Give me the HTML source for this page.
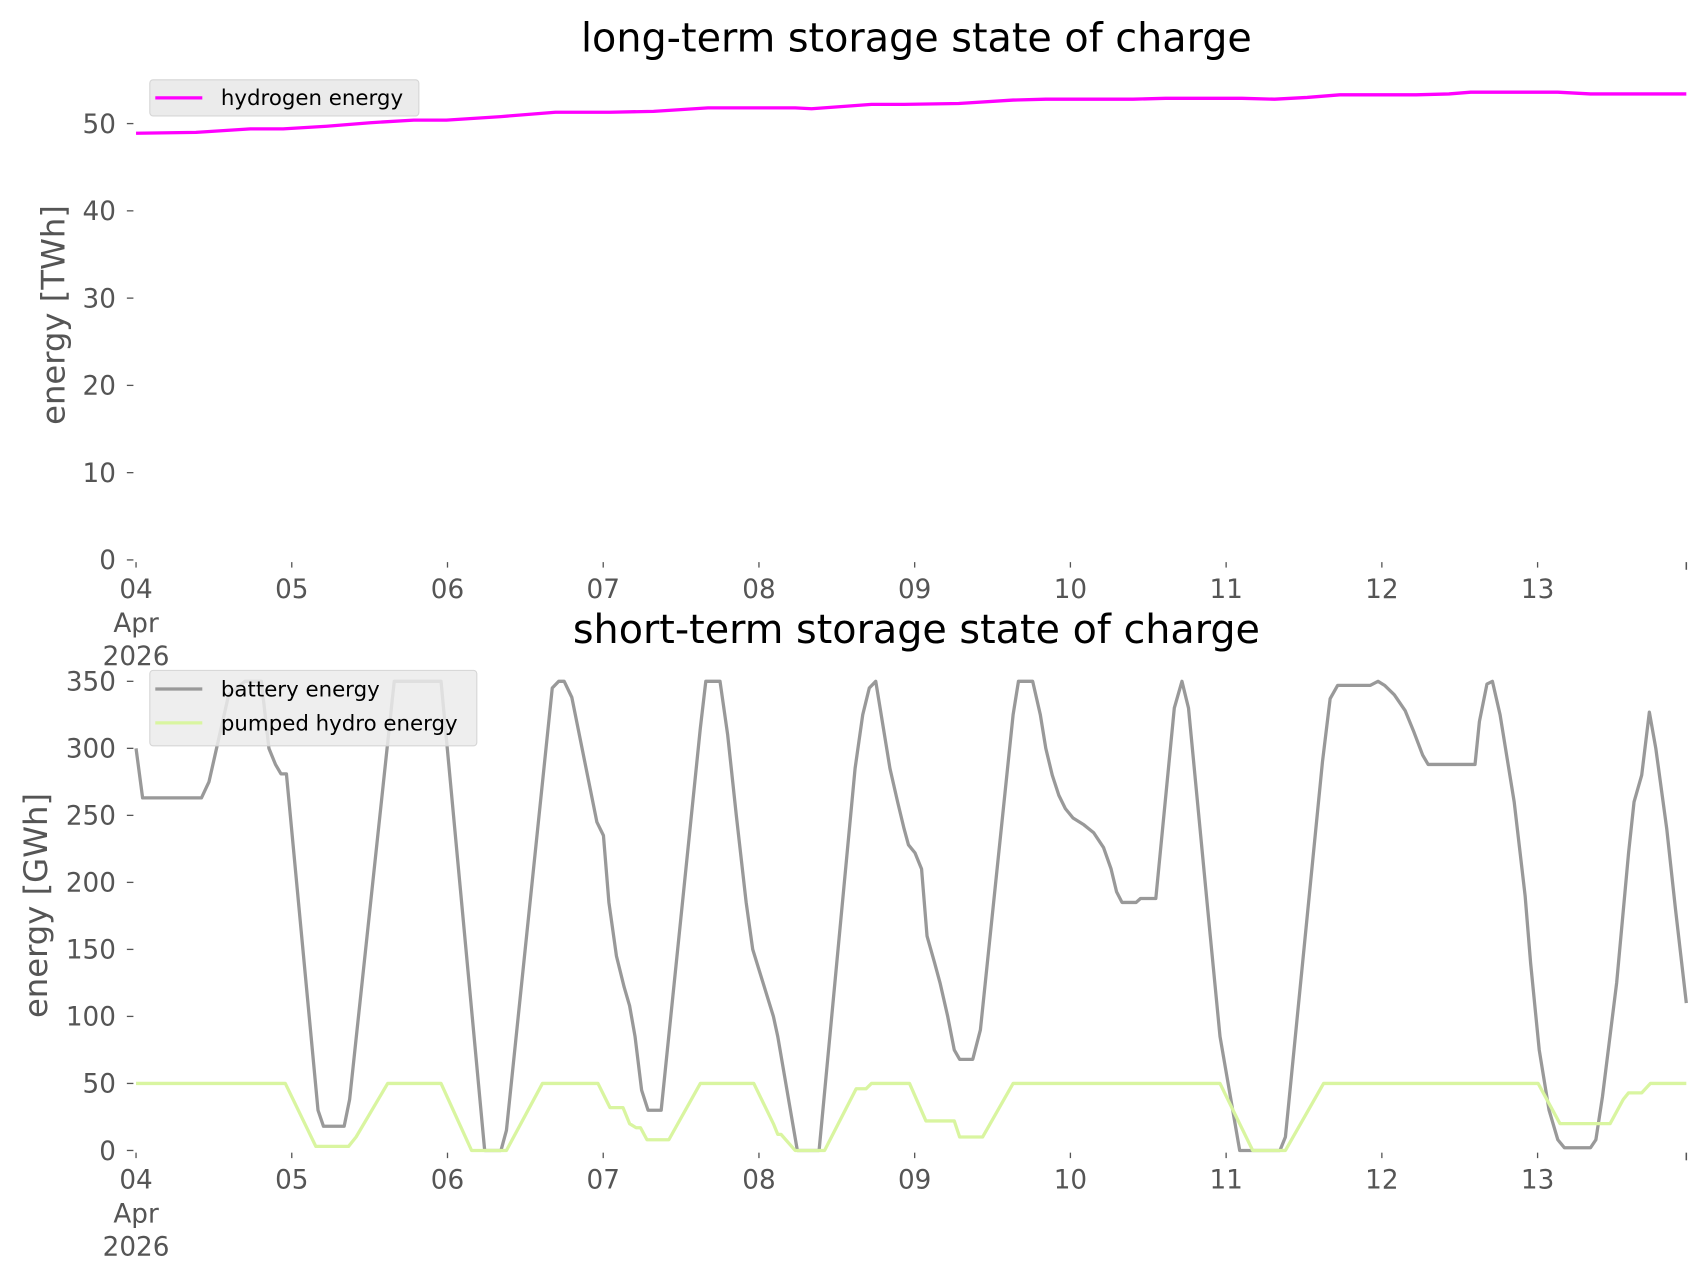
<!DOCTYPE html>
<html><head><meta charset="utf-8"><style>
html,body{margin:0;padding:0;background:#fff;}
svg{display:block;font-family:"DejaVu Sans","Liberation Sans",sans-serif;}
</style></head><body>
<svg id="s" width="1706" height="1277" viewBox="0 0 1560 1167.7" xmlns="http://www.w3.org/2000/svg">
<g id="g"></g>
<text x="838" y="47" font-size="36.3" text-anchor="middle" fill="#000">long-term storage state of charge</text>
<text x="838" y="588" font-size="36.3" text-anchor="middle" fill="#000">short-term storage state of charge</text>
<text transform="translate(59,288) rotate(-90)" font-size="29.5" text-anchor="middle" fill="#555">energy [TWh]</text>
<text transform="translate(43,828) rotate(-90)" font-size="29.5" text-anchor="middle" fill="#555">energy [GWh]</text>
</svg>
<script>
var g=document.getElementById('g');var NS='http://www.w3.org/2000/svg';
function el(t,a,txt){var e=document.createElementNS(NS,t);for(var k in a)e.setAttribute(k,a[k]);if(txt!==undefined)e.textContent=txt;g.appendChild(e);return e;}
var x0=124.4,day=142.4,FS=24;
function ty(v){return 512-v*7.98;}
function by(v){return 1052-v*1.2257;}
function tx(x){return 124.4+(x-125)*0.99623;}
[0,10,20,30,40,50].forEach(function(v){var y=ty(v);el('line',{x1:116,x2:122,y1:y,y2:y,stroke:'#555','stroke-width':1.2});el('text',{x:106,y:y+8.5,'font-size':FS,'text-anchor':'end',fill:'#555'},v);});
[0,50,100,150,200,250,300,350].forEach(function(v){var y=by(v);el('line',{x1:116,x2:122,y1:y,y2:y,stroke:'#555','stroke-width':1.2});el('text',{x:106,y:y+8.5,'font-size':FS,'text-anchor':'end',fill:'#555'},v);});
function xticks(yb){for(var i=0;i<10;i++){var x=x0+i*day;el('line',{x1:x,x2:x,y1:yb,y2:yb+5,stroke:'#555','stroke-width':1.2});var l=i==0?'04':(i+4<10?'0'+(i+4):''+(i+4));el('text',{x:x,y:yb+33,'font-size':FS,'text-anchor':'middle',fill:'#555'},l);}
el('line',{x1:1542,x2:1542,y1:yb,y2:yb+7,stroke:'#555','stroke-width':1.4});
el('text',{x:x0,y:yb+64,'font-size':FS,'text-anchor':'middle',fill:'#555'},'Apr');el('text',{x:x0,y:yb+94,'font-size':FS,'text-anchor':'middle',fill:'#555'},'2026');}
xticks(514);xticks(1054);
function path(pts,f,col,w){var d='';pts.forEach(function(p,i){d+=(i?'L':'M')+tx(p[0]).toFixed(1)+','+f(p[1]).toFixed(1);});el('path',{d:d,fill:'none',stroke:col,'stroke-width':w,'stroke-linejoin':'round'});}
var h=[[125,48.9],[180,49],[230,49.4],[260,49.4],[300,49.7],[340,50.1],[380,50.4],[410,50.4],[460,50.8],[510,51.3],[560,51.3],[600,51.4],[650,51.8],[700,51.8],[730,51.8],[745,51.7],[800,52.2],[830,52.2],[880,52.3],[930,52.7],[960,52.8],[1040,52.8],[1070,52.9],[1140,52.9],[1170,52.8],[1200,53],[1230,53.3],[1300,53.3],[1330,53.4],[1350,53.6],[1430,53.6],[1460,53.4],[1548,53.4]];
path(h,ty,'#ff00ff',3);
var b=[[125,300],[131,263],[185,263],[192,275],[210,340],[225,350],[240,350],[247,300],[253,288],[258,281],[263,281],[292,30],[297,18],[316,18],[321,38],[362,350],[405,350],[445,0],[460,0],[465,15],[507,345],[513,350],[518,350],[525,338],[548,245],[554,235],[559,185],[566,145],[573,122],[578,108],[583,85],[589,45],[595,30],[607,30],[643,315],[648,350],[661,350],[668,310],[676,250],[685,185],[691,150],[710,100],[714,85],[732,0],[752,0],[785,285],[792,325],[798,345],[804,350],[817,285],[824,260],[830,240],[834,228],[840,222],[846,210],[851,160],[858,140],[863,125],[870,100],[876,75],[881,68],[893,68],[900,90],[930,325],[935,350],[948,350],[955,325],[960,300],[966,280],[972,265],[978,255],[985,248],[995,243],[1004,237],[1013,226],[1020,210],[1025,193],[1030,185],[1043,185],[1047,188],[1061,188],[1078,330],[1085,350],[1091,330],[1111,160],[1120,85],[1138,0],[1175,0],[1180,10],[1214,290],[1221,337],[1228,347],[1258,347],[1265,350],[1271,347],[1280,340],[1290,328],[1298,312],[1306,295],[1311,288],[1354,288],[1358,320],[1365,348],[1370,350],[1377,325],[1390,260],[1400,190],[1405,140],[1413,75],[1422,30],[1430,8],[1436,2],[1460,2],[1465,8],[1471,40],[1484,125],[1495,222],[1500,260],[1507,280],[1514,327],[1520,300],[1530,240],[1538,180],[1548,110]];
path(b,by,'#999999',3);
var p=[[125,50],[262,50],[290,3],[320,3],[327,10],[356,50],[405,50],[433,0],[465,0],[498,50],[549,50],[560,32],[572,32],[578,20],[584,17],[588,17],[594,8],[614,8],[643,50],[692,50],[710,20],[714,12],[717,12],[730,0],[757,0],[786,46],[795,46],[800,50],[835,50],[850,22],[876,22],[881,10],[902,10],[930,50],[1120,50],[1150,0],[1180,0],[1215,50],[1412,50],[1432,20],[1478,20],[1490,38],[1495,43],[1507,43],[1515,50],[1548,50]];
path(p,by,'#d9f5a0',3);
el('rect',{x:137,y:73,width:246,height:33,rx:3,fill:'#ebebeb',stroke:'#d5d5d5','stroke-width':1});
el('line',{x1:142,x2:185,y1:89.5,y2:89.5,stroke:'#ff00ff','stroke-width':3});
el('text',{x:202,y:96,'font-size':19.5,fill:'#000'},'hydrogen energy');
el('rect',{x:137,y:613,width:299,height:69,rx:3,fill:'#ebebeb','fill-opacity':0.85,stroke:'#d5d5d5','stroke-width':1});
el('line',{x1:142,x2:185,y1:630,y2:630,stroke:'#999999','stroke-width':3});
el('text',{x:202,y:637,'font-size':19.5,fill:'#000'},'battery energy');
el('line',{x1:142,x2:185,y1:661,y2:661,stroke:'#d9f5a0','stroke-width':3});
el('text',{x:202,y:668,'font-size':19.5,fill:'#000'},'pumped hydro energy');
</script>
</body></html>
